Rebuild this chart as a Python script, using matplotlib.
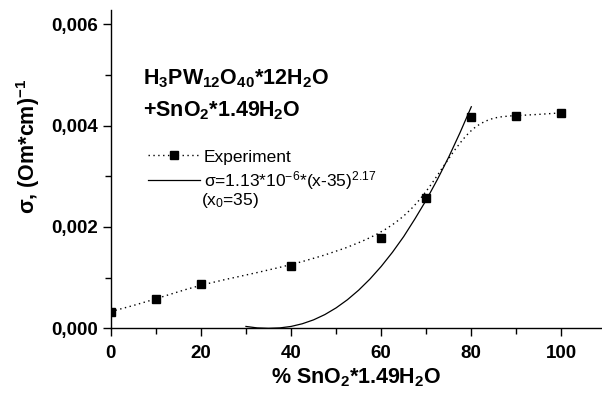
import numpy as np
import matplotlib
matplotlib.use("Agg")
import matplotlib.pyplot as plt
from matplotlib.path import Path
from matplotlib.patches import PathPatch
from matplotlib.lines import Line2D
from matplotlib.ticker import MultipleLocator, FuncFormatter

plt.rcParams['font.family'] = ['Liberation Sans', 'DejaVu Sans']
plt.rcParams['mathtext.fontset'] = 'custom'
plt.rcParams['mathtext.rm'] = 'Liberation Sans'
plt.rcParams['mathtext.it'] = 'Liberation Sans:italic'
plt.rcParams['mathtext.bf'] = 'Liberation Sans:bold'

# experimental points
sno2_pct = [0, 10, 20, 40, 60, 70, 80, 90, 100]
sigma_exp = [0.00033, 0.00057, 0.00088, 0.00122, 0.00179, 0.00257, 0.00416, 0.00419, 0.00425]

# fitted curve
fit_x = [30, 32.5, 35, 37.5, 40, 42.5, 45, 47.5, 50, 52.5, 55, 57.5,
         60, 62.5, 65, 67.5, 70, 72.5, 75, 77.5, 80]
fit_y = [0.000037, 0.000008, 0.0, 0.000008, 0.000037, 0.00009, 0.000167, 0.000271,
         0.000403, 0.000563, 0.000752, 0.000971, 0.00122, 0.0015, 0.00181,
         0.00216, 0.00253, 0.00294, 0.00338, 0.00386, 0.00437]


def bspline_path(xs, ys):
    """Clamped uniform cubic B-spline through control points, as Bezier path."""
    pts = np.column_stack([xs, ys])
    pts = np.vstack([pts[0], pts[0], pts, pts[-1], pts[-1]])
    verts = []
    codes = []
    for i in range(len(pts) - 3):
        p0, p1, p2, p3 = pts[i:i + 4]
        b0 = (p0 + 4 * p1 + p2) / 6
        b1 = (4 * p1 + 2 * p2) / 6
        b2 = (2 * p1 + 4 * p2) / 6
        b3 = (p1 + 4 * p2 + p3) / 6
        if not verts:
            verts.append(b0)
            codes.append(Path.MOVETO)
        verts += [b1, b2, b3]
        codes += [Path.CURVE4] * 3
    return Path(verts, codes)


fig = plt.figure(figsize=(6.02, 3.97), dpi=100)
ax = fig.add_axes([0.184, 0.173, 0.816, 0.802])

ax.add_patch(PathPatch(bspline_path(sno2_pct, sigma_exp), fill=False,
                       edgecolor='black', linestyle=(0, (1, 2.5)), linewidth=1.0))
ax.plot(sno2_pct, sigma_exp, 's', color='black', markersize=6, zorder=3)
ax.plot(fit_x, fit_y, '-', color='black', linewidth=0.9)

ax.set_xlim(0, 109)
ax.set_ylim(0, 0.00628)
ax.spines['top'].set_visible(False)
ax.spines['right'].set_visible(False)
ax.spines['left'].set_linewidth(1.0)
ax.spines['bottom'].set_linewidth(1.0)

ax.xaxis.set_major_locator(MultipleLocator(20))
ax.xaxis.set_minor_locator(MultipleLocator(10))
ax.yaxis.set_major_locator(MultipleLocator(0.002))
ax.yaxis.set_minor_locator(MultipleLocator(0.001))
ax.yaxis.set_major_formatter(FuncFormatter(lambda v, p: f"{v:.3f}".replace('.', ',')))
ax.tick_params(which='major', direction='out', length=6, width=1.0, labelsize=13.5)
ax.tick_params(axis='x', which='major', pad=6)
ax.tick_params(which='minor', direction='out', length=4, width=1.0)
for lab in ax.get_xticklabels() + ax.get_yticklabels():
    lab.set_fontweight('bold')

ax.set_xlabel(r"% SnO$_\mathbf{2}$*1.49H$_\mathbf{2}$O", fontsize=15.5, fontweight='bold', labelpad=3)
ax.set_ylabel(r"σ, (Om*cm)$^\mathbf{-1}$", fontsize=15.5, fontweight='bold')
ax.yaxis.set_label_coords(-0.14, 0.573)

ax.text(0.066, 0.784, r"H$_\mathbf{3}$PW$_\mathbf{12}$O$_\mathbf{40}$*12H$_\mathbf{2}$O",
        transform=ax.transAxes, fontsize=15.5, fontweight='bold', va='center')
ax.text(0.066, 0.682, r"+SnO$_\mathbf{2}$*1.49H$_\mathbf{2}$O",
        transform=ax.transAxes, fontsize=15.5, fontweight='bold', va='center')

handles = [
    Line2D([], [], color='black', linestyle=(0, (1, 2.5)), linewidth=1.0,
           marker='s', markersize=6),
    Line2D([], [], color='black', linestyle='-', linewidth=0.9),
]
labels = ["Experiment", r"σ=1.13*10$^{-6}$*(x-35)$^{2.17}$"]
ax.legend(handles, labels, loc='upper left', bbox_to_anchor=(0.076, 0.562),
          frameon=False, fontsize=12.5, handlelength=3.0, handletextpad=0.2,
          borderpad=0, borderaxespad=0, labelspacing=0.25)
ax.text(0.183, 0.40, r"(x$_0$=35)", transform=ax.transAxes, fontsize=12.5, va='center')

fig.savefig("out.png", dpi=100)
